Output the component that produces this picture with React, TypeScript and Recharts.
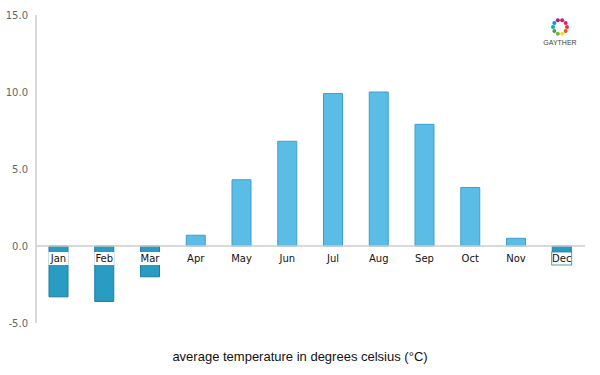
import { BarChart, Bar, XAxis, YAxis, ReferenceLine, Cell, LabelList } from 'recharts';

const months = ['Jan', 'Feb', 'Mar', 'Apr', 'May', 'Jun', 'Jul', 'Aug', 'Sep', 'Oct', 'Nov', 'Dec'];
const temps = [-3.3, -3.6, -2.0, 0.7, 4.3, 6.8, 9.9, 10.0, 7.9, 3.8, 0.5, -0.5];
const yTicks = [-5, 0, 5, 10, 15];

const data = months.map((month, i) => ({ month, temp: temps[i] }));

const POS_FILL = '#5bbde6';
const POS_STROKE = '#3d9fcf';
const NEG_FILL = '#2a9bc3';
const NEG_STROKE = '#1b7ea3';

// month name drawn just under the zero line, boxed in white where it sits on a bar
function MonthLabel(props: any) {
  const { x, y, width, height, index } = props;
  const zeroY = y + height;
  const cx = x + width / 2;
  const name = months[index];
  const neg = temps[index] < 0;
  return (
    <g>
      {neg && (
        <rect x={cx - 10} y={zeroY + 6} width={20} height={13} fill="#fff" stroke={index === 11 ? '#2a7fa3' : 'none'} strokeWidth={0.8} />
      )}
      <text x={cx} y={zeroY + 16} textAnchor="middle" fontSize={10} fill="#111" fontFamily="'DejaVu Sans', sans-serif">
        {name}
      </text>
    </g>
  );
}

function Logo() {
  const colors = ['#e53935', '#f4511e', '#fdd835', '#7cb342', '#43a047', '#00acc1', '#1e88e5', '#8e24aa', '#d81b60', '#e91e63'];
  return (
    <svg width={40} height={40} style={{ position: 'absolute', left: 540, top: 10 }}>
      {colors.map((c, i) => {
        const a = (i / colors.length) * Math.PI * 2;
        return <circle key={i} cx={20 + Math.cos(a) * 7} cy={17 + Math.sin(a) * 7} r={2} fill={c} />;
      })}
      <text x={20} y={35} textAnchor="middle" fontSize={7} fill="#444" fontFamily="'Liberation Sans', Arial, sans-serif">
        GAYTHER
      </text>
    </svg>
  );
}

export default function App() {
  return (
    <div style={{ position: 'absolute', left: 0, top: 0, width: 600, height: 375, background: '#fff' }}>
      <BarChart width={600} height={375} data={data} margin={{ top: 15, right: 15, bottom: 52, left: 6 }}>
        <XAxis dataKey="month" hide />
        <YAxis
          domain={[-5, 15]}
          ticks={yTicks}
          interval={0}
          width={30}
          tickFormatter={(v: number) => v.toFixed(1)}
          tickLine={false}
          axisLine={{ stroke: '#cccccc', strokeWidth: 1.5 }}
          tick={{ fontSize: 10, fill: '#666', fontFamily: "'DejaVu Sans', sans-serif" }}
        />
        <ReferenceLine y={0} stroke="#cccccc" strokeWidth={1.5} />
        <Bar dataKey="temp" barSize={19} isAnimationActive={false}>
          {data.map((d, i) => (
            <Cell key={i} fill={d.temp < 0 ? NEG_FILL : POS_FILL} stroke={d.temp < 0 ? NEG_STROKE : POS_STROKE} strokeWidth={1} />
          ))}
          <LabelList dataKey="temp" content={<MonthLabel />} />
        </Bar>
      </BarChart>
      <Logo />
      <div
        style={{
          position: 'absolute',
          left: 0,
          top: 349,
          width: 600,
          textAlign: 'center',
          fontFamily: "'Liberation Sans', Arial, sans-serif",
          fontSize: 13,
          color: '#111',
        }}
      >
        average temperature in degrees celsius (°C)
      </div>
    </div>
  );
}
